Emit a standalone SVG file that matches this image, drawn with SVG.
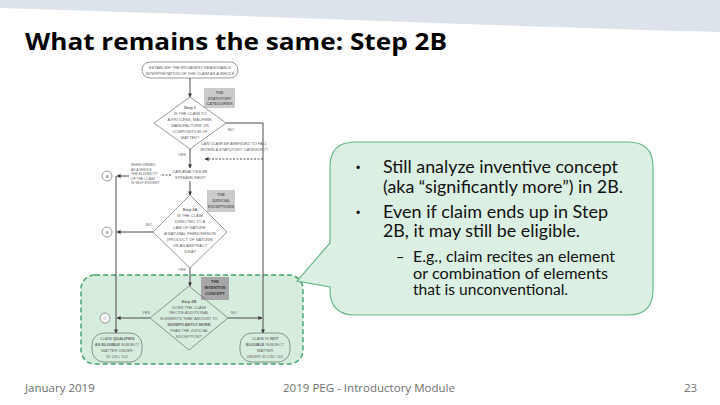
<svg xmlns="http://www.w3.org/2000/svg" width="720" height="405" viewBox="0 0 720 405">
<style>
.fc{font-family:"Liberation Sans",Arial,sans-serif;font-size:4px;fill:#666;text-anchor:middle}
.fcl{font-family:"Liberation Sans",Arial,sans-serif;font-size:3.4px;fill:#666}
.it{font-style:italic}
.b{font-weight:bold}
.ln{stroke:#3a3a3a;stroke-width:0.9;fill:none}
.dash{stroke:#3a3a3a;stroke-width:0.9;fill:none;stroke-dasharray:2,1.5}
.shape{stroke:#555;stroke-width:0.6;fill:#fff}
.shapeg{stroke:#555;stroke-width:0.6;fill:none}
.gbox{fill:#cbcbcb}
.circ{stroke:#555;stroke-width:0.6;fill:#fff}
.body{font-family:Lato,"Open Sans",sans-serif;font-size:17px;fill:#111}
.sub{font-family:Lato,"Open Sans",sans-serif;font-size:14.5px;fill:#111}
.bul{font-family:"Liberation Sans",Arial,sans-serif;font-size:12px;fill:#111}
.foot{font-family:"Open Sans","Liberation Sans",sans-serif;font-size:11.5px;fill:#6f6f6f}
</style>
<defs>
<marker id="ah" viewBox="0 0 10 10" refX="9" refY="5" markerWidth="4" markerHeight="4" markerUnits="userSpaceOnUse" orient="auto">
<path d="M0,0 L10,5 L0,10 Z" fill="#3a3a3a"/>
</marker>
</defs>
<rect width="720" height="405" fill="#fff"/>
<path d="M0,0 H720 V32 C520,27 260,16 0,8 Z" fill="#dde3ea"/>
<text x="25" y="50" font-family="'Open Sans','Noto Sans',sans-serif" font-weight="bold" font-size="24" fill="#000" textLength="422" lengthAdjust="spacingAndGlyphs">What remains the same: Step 2B</text>

<g id="region2b">
<rect x="81" y="275" width="222" height="89" rx="14" fill="#d6ecdd" stroke="#45a56e" stroke-width="1.5" stroke-dasharray="5,3"/>
</g>

<g id="connectors">
<line class="ln" x1="190" y1="78" x2="190" y2="97" marker-end="url(#ah)"/>
<polyline class="ln" points="226,123 263,123 263,333" marker-end="url(#ah)"/>
<line class="dash" x1="263" y1="159" x2="205" y2="159" marker-end="url(#ah)"/>
<line class="ln" x1="190" y1="149" x2="190" y2="168" marker-end="url(#ah)"/>
<line class="dash" x1="171" y1="175" x2="160" y2="175"/>
<line class="ln" x1="129" y1="176" x2="117" y2="176" marker-end="url(#ah)"/>
<line class="ln" x1="116" y1="176" x2="116" y2="333" marker-end="url(#ah)"/>
<line class="ln" x1="190" y1="181" x2="190" y2="195" marker-end="url(#ah)"/>
<line class="ln" x1="153" y1="232" x2="117" y2="232" marker-end="url(#ah)"/>
<line class="ln" x1="190" y1="268" x2="190" y2="286" marker-end="url(#ah)"/>
<line class="ln" x1="150" y1="318" x2="117" y2="318" marker-end="url(#ah)"/>
<line class="ln" x1="228" y1="318" x2="262" y2="318" marker-end="url(#ah)"/>
<text class="fc" x="231" y="131">NO</text>
<text class="fc" x="182" y="156">YES</text>
<text class="fc" x="149" y="226">NO</text>
<text class="fc" x="182" y="271">YES</text>
<text class="fc" x="146" y="314">YES</text>
<text class="fc" x="234" y="314">NO</text>
<text class="fc it" x="234" y="145">CAN CLAIM BE AMENDED TO FALL</text>
<text class="fc it" x="234" y="150.5">WITHIN A STATUTORY CATEGORY?</text>
<text class="fcl" x="131" y="166">WHEN VIEWED</text>
<text class="fcl" x="131" y="170.5">AS A WHOLE</text>
<text class="fcl" x="131" y="175">THE ELIGIBILITY</text>
<text class="fcl" x="131" y="179.5">OF THE CLAIM</text>
<text class="fcl" x="131" y="184">IS SELF-EVIDENT</text>
</g>

<g id="bri">
<rect class="shape" x="142" y="62" width="96" height="16" rx="8"/>
<text class="fc it" x="190" y="69">ESTABLISH THE BROADEST REASONABLE</text>
<text class="fc it" x="190" y="75">INTERPRETATION OF THE CLAIM AS A WHOLE</text>
</g>

<g id="cat1">
<rect class="gbox" x="204" y="88" width="31" height="20"/>
<text class="fc b" x="219.5" y="94">THE</text>
<text class="fc b" x="219.5" y="99.5">STATUTORY</text>
<text class="fc b" x="219.5" y="105">CATEGORIES</text>
</g>

<g id="step1">
<polygon class="shape" points="190,97 226,123 190,149 154,123"/>
<text class="fc b" x="190" y="109">Step 1</text>
<text class="fc" x="190" y="115">IS THE CLAIM TO</text>
<text class="fc" x="190" y="121">A PROCESS, MACHINE,</text>
<text class="fc" x="190" y="127">MANUFACTURE OR</text>
<text class="fc" x="190" y="133">COMPOSITION OF</text>
<text class="fc" x="190" y="139">MATTER?</text>
</g>

<g id="streamline">
<text class="fc it" x="190" y="173">CAN ANALYSIS BE</text>
<text class="fc it" x="190" y="179">STREAMLINED?</text>
</g>

<g id="circleA">
<circle class="circ" cx="107" cy="176" r="5"/>
<text class="fc" x="107" y="177.5">A</text>
</g>

<g id="cat2">
<rect class="gbox" x="207" y="190" width="28" height="22"/>
<text class="fc b" x="221" y="196">THE</text>
<text class="fc b" x="221" y="202">JUDICIAL</text>
<text class="fc b" x="221" y="208">EXCEPTIONS</text>
</g>

<g id="step2a">
<polygon class="shape" points="190,195 227,232 190,268 153,232"/>
<text class="fc b" x="190" y="211">Step 2A</text>
<text class="fc" x="190" y="217">IS THE CLAIM</text>
<text class="fc" x="190" y="223">DIRECTED TO A</text>
<text class="fc" x="190" y="229">LAW OF NATURE,</text>
<text class="fc" x="190" y="235">A NATURAL PHENOMENON</text>
<text class="fc" x="190" y="241">(PRODUCT OF NATURE)</text>
<text class="fc" x="190" y="247">OR AN ABSTRACT</text>
<text class="fc" x="190" y="253">IDEA?</text>
</g>

<g id="circleB">
<circle class="circ" cx="107" cy="232" r="5"/>
<text class="fc" x="107" y="233.5">B</text>
</g>

<g id="cat3">
<rect x="201" y="277" width="28" height="23" fill="#a6a6a6"/>
<text class="fc b" x="215" y="283" style="fill:#333">THE</text>
<text class="fc b" x="215" y="289" style="fill:#333">INVENTIVE</text>
<text class="fc b" x="215" y="295" style="fill:#333">CONCEPT</text>
</g>

<g id="step2b">
<polygon class="shapeg" points="189,286 228,318 189,350 150,318"/>
<text class="fc b" x="189" y="303">Step 2B</text>
<text class="fc" x="189" y="308.5">DOES THE CLAIM</text>
<text class="fc" x="189" y="314">RECITE ADDITIONAL</text>
<text class="fc" x="189" y="320">ELEMENTS THAT AMOUNT TO</text>
<text class="fc b" x="189" y="326">SIGNIFICANTLY MORE</text>
<text class="fc" x="189" y="332">THAN THE JUDICIAL</text>
<text class="fc" x="189" y="337.5">EXCEPTION?</text>
</g>

<g id="circleC">
<circle class="circ" cx="105" cy="318" r="5"/>
<text class="fc" x="105" y="319.5">C</text>
</g>

<g id="eligible">
<rect class="shapeg" x="92" y="333" width="50" height="29" rx="12"/>
<text class="fc" x="117" y="339.5">CLAIM <tspan class="b">QUALIFIES</tspan></text>
<text class="fc" x="117" y="345.5"><tspan class="b">AS ELIGIBLE</tspan> SUBJECT</text>
<text class="fc" x="117" y="351.5">MATTER UNDER</text>
<text class="fc" x="117" y="357.5">35 USC 101</text>
</g>

<g id="noteligible">
<rect class="shapeg" x="240" y="333" width="50" height="29" rx="12"/>
<text class="fc" x="265" y="339.5">CLAIM IS <tspan class="b">NOT</tspan></text>
<text class="fc" x="265" y="345.5"><tspan class="b">ELIGIBLE</tspan> SUBJECT</text>
<text class="fc" x="265" y="351.5">MATTER</text>
<text class="fc" x="265" y="357.5">UNDER 35 USC 101</text>
</g>

<g id="callout">
<path d="M355,142 H628 Q653,142 653,167 V290 Q653,315 628,315 H355 Q330,315 330,290 V287 L297,281 L330,243 V167 Q330,142 355,142 Z" fill="#dcefe3" stroke="#68b98a" stroke-width="1.2"/>
<text class="bul" x="356" y="172">•</text>
<text class="body" x="383" y="173" textLength="235" lengthAdjust="spacingAndGlyphs">Still analyze inventive concept</text>
<text class="body" x="383" y="193" textLength="240" lengthAdjust="spacingAndGlyphs">(aka “significantly more”) in 2B.</text>
<text class="bul" x="356" y="217">•</text>
<text class="body" x="383" y="218" textLength="225" lengthAdjust="spacingAndGlyphs">Even if claim ends up in Step</text>
<text class="body" x="383" y="237" textLength="197" lengthAdjust="spacingAndGlyphs">2B, it may still be eligible.</text>
<text class="sub" x="396" y="262">–</text>
<text class="sub" x="413" y="262" textLength="202" lengthAdjust="spacingAndGlyphs">E.g., claim recites an element</text>
<text class="sub" x="413" y="278.5" textLength="195" lengthAdjust="spacingAndGlyphs">or combination of elements</text>
<text class="sub" x="413" y="295" textLength="155" lengthAdjust="spacingAndGlyphs">that is unconventional.</text>
</g>

<text class="foot" x="25" y="392">January 2019</text>
<text class="foot" x="283" y="392" textLength="172" lengthAdjust="spacingAndGlyphs">2019 PEG - Introductory Module</text>
<text class="foot" x="684" y="392">23</text>
</svg>
